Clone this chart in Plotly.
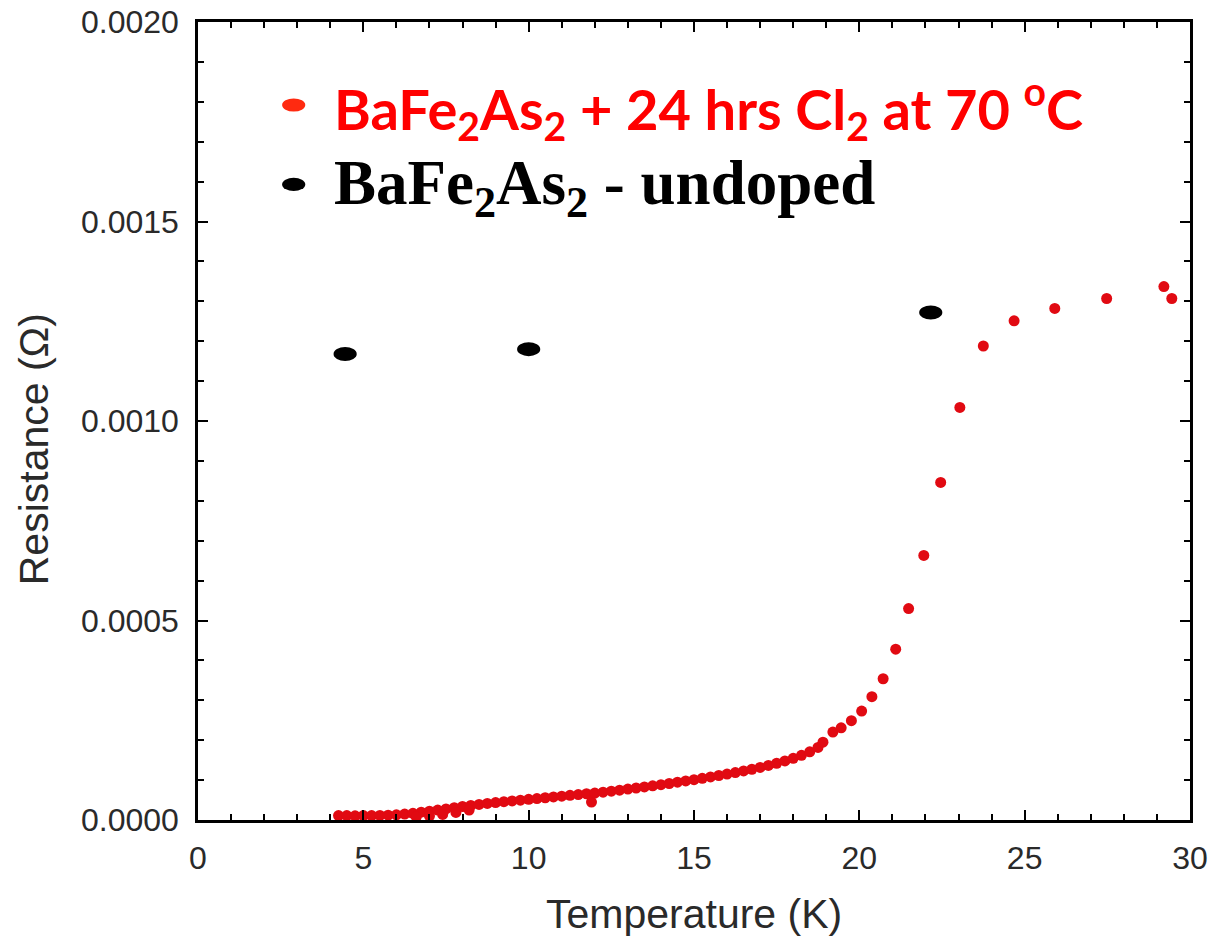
import plotly.graph_objects as go

# Red series: BaFe2As2 + 24 hrs Cl2 at 70 oC
red_T = [4.25, 4.5, 4.75, 5.0, 5.25, 5.5, 5.75, 6.0, 6.25, 6.5, 6.75, 7.0, 7.25, 7.5, 7.75,
         8.0, 8.25, 8.5, 8.75, 9.0, 9.25, 9.5, 9.75, 10.0, 10.25, 10.5, 10.75, 11.0, 11.25,
         11.5, 11.75, 11.9, 12.0, 12.25, 12.5, 12.75, 13.0, 13.25, 13.5, 13.75, 14.0, 14.25,
         14.5, 14.75, 15.0, 15.25, 15.5, 15.75, 16.0, 16.25, 16.5, 16.75, 17.0, 17.25, 17.5,
         17.75, 18.0, 18.25, 18.5, 18.75, 18.9, 19.2, 19.45, 19.76, 20.07, 20.38, 20.72,
         21.10, 21.49, 21.95, 22.46, 23.04, 23.75, 24.68, 25.91, 27.48, 29.21, 29.45,
         6.6, 7.0, 7.4, 7.8, 8.2]
red_R = [0.0000110, 0.0000110, 0.0000105, 0.0000110, 0.0000112, 0.0000115, 0.0000122,
         0.0000130, 0.0000148, 0.0000168, 0.0000195, 0.0000220, 0.0000248, 0.0000278,
         0.0000308, 0.0000338, 0.0000365, 0.0000390, 0.0000415, 0.0000438, 0.0000458,
         0.0000478, 0.0000498, 0.0000518, 0.0000538, 0.0000558, 0.0000578, 0.0000598,
         0.0000618, 0.0000638, 0.0000658, 0.0000450, 0.0000675, 0.0000698, 0.0000722,
         0.0000748, 0.0000775, 0.0000802, 0.0000830, 0.0000858, 0.0000885, 0.0000915,
         0.0000948, 0.0000980, 0.0001010, 0.0001045, 0.0001080, 0.0001115, 0.0001152,
         0.0001190, 0.0001230, 0.0001272, 0.0001318, 0.0001368, 0.0001422, 0.0001480,
         0.0001545, 0.0001620, 0.0001710, 0.0001820, 0.0001950, 0.0002205, 0.0002310,
         0.0002490, 0.0002730, 0.0003090, 0.0003540, 0.0004280, 0.0005300, 0.0006630,
         0.0008460, 0.0010340, 0.0011880, 0.0012510, 0.0012820, 0.0013070, 0.0013370,
         0.0013070,
         0.0000080, 0.0000100, 0.0000140, 0.0000190, 0.0000250]

# Black series: BaFe2As2 - undoped
black_T = [4.45, 10.0, 22.16]
black_R = [0.001168, 0.001180, 0.001272]

x_ticks = [0, 5, 10, 15, 20, 25, 30]
y_ticks = [0.0, 0.0005, 0.0010, 0.0015, 0.0020]
y_tick_labels = ["0.0000", "0.0005", "0.0010", "0.0015", "0.0020"]

RED_LEGEND = "#ff2a10"

fig = go.Figure()

fig.add_trace(go.Scatter(
    x=red_T, y=red_R, mode="markers",
    marker=dict(size=11, color="#e10a12", line=dict(width=0)),
    showlegend=False, cliponaxis=True,
))

# black ellipses (wider than tall), positioned from the data arrays
half_w = 0.35
half_h = 0.0000175
for t, r in zip(black_T, black_R):
    fig.add_shape(type="circle", xref="x", yref="y",
                  x0=t - half_w, x1=t + half_w, y0=r - half_h, y1=r + half_h,
                  fillcolor="black", line=dict(color="black", width=0))

axis_common = dict(
    showline=True, linecolor="black", linewidth=2.5, mirror="allticks",
    ticks="inside", ticklen=10, tickwidth=2, tickcolor="black",
    showgrid=False, zeroline=False, automargin=False,
    tickfont=dict(family="Liberation Sans, Arial, sans-serif", size=32, color="#2a2a2a"),
)

fig.update_xaxes(
    range=[0, 30], tickvals=x_ticks, ticklabelstandoff=8,
    minor=dict(ticks="inside", ticklen=6, tickwidth=2, tickcolor="black", dtick=1, showgrid=False),
    **axis_common,
)
fig.update_yaxes(
    range=[0, 0.002], tickvals=y_ticks, ticktext=y_tick_labels, ticklabelstandoff=10,
    minor=dict(ticks="inside", ticklen=6, tickwidth=2, tickcolor="black", dtick=0.0001, showgrid=False),
    **axis_common,
)

# axis titles
fig.add_annotation(x=0.5, y=-0.118, xref="paper", yref="paper", text="Temperature (K)",
                   showarrow=False, xanchor="center", yanchor="middle",
                   font=dict(family="Liberation Sans, Arial, sans-serif", size=41, color="#2a2a2a"))
fig.add_annotation(x=-0.1658, y=0.464, xref="paper", yref="paper", text="Resistance (Ω)",
                   showarrow=False, xanchor="center", yanchor="middle", textangle=-90,
                   font=dict(family="Liberation Sans, Arial, sans-serif", size=41, color="#2a2a2a"))

# legend bullets (ellipses) and texts
bullet_x = 2.894
bw, bh = 0.35, 0.0000165
fig.add_shape(type="circle", xref="x", yref="y",
              x0=bullet_x - bw, x1=bullet_x + bw, y0=0.001792 - bh, y1=0.001792 + bh,
              fillcolor=RED_LEGEND, line=dict(width=0))
fig.add_shape(type="circle", xref="x", yref="y",
              x0=bullet_x - bw, x1=bullet_x + bw, y0=0.001593 - bh, y1=0.001593 + bh,
              fillcolor="black", line=dict(width=0))
fig.add_annotation(x=4.05, y=0.001785, xref="x", yref="y",
                   text="<b>BaFe<sub>2</sub>As<sub>2</sub> + 24 hrs Cl<sub>2</sub> at 70 <sup>o</sup>C</b>",
                   showarrow=False, xanchor="left", yanchor="middle",
                   font=dict(family="Lato, Open Sans, sans-serif", size=56, color="#ff0000"))
fig.add_annotation(x=4.05, y=0.001584, xref="x", yref="y",
                   text="<b>BaFe<sub>2</sub>As<sub>2</sub> - undoped</b>",
                   showarrow=False, xanchor="left", yanchor="middle",
                   font=dict(family="Liberation Serif, Times New Roman, serif", size=63, color="black"))

fig.update_layout(
    width=1212, height=940,
    margin=dict(l=198, r=22, t=22, b=120, autoexpand=False),
    plot_bgcolor="white", paper_bgcolor="white",
    showlegend=False,
)

fig.write_html("out.html")
